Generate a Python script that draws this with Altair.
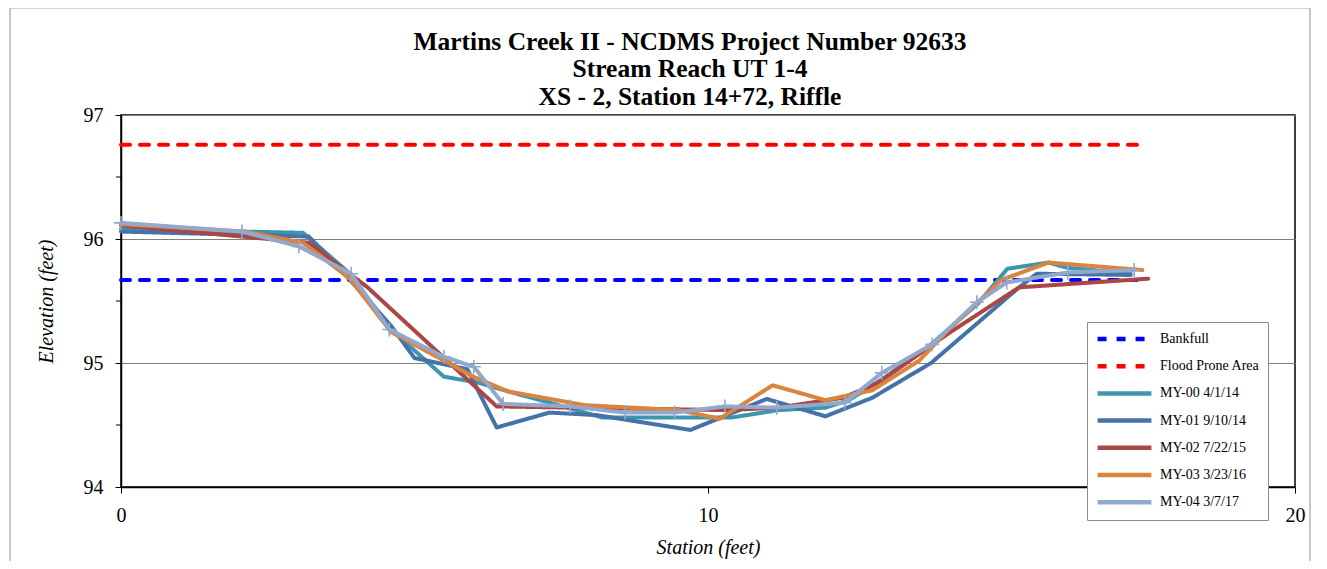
import altair as alt
import pandas as pd

# ---- data ----
series_names = ["Bankfull", "Flood Prone Area", "MY-00 4/1/14", "MY-01 9/10/14",
                "MY-02 7/22/15", "MY-03 3/23/16", "MY-04 3/7/17"]
series_colors = ["#0000FF", "#FF0000", "#3D96AE", "#4572A7", "#AA4643", "#DB843D", "#92A8CD"]
series_dashes = [[9, 10], [9, 10], [1, 0], [1, 0], [1, 0], [1, 0], [1, 0]]

bank_st = [0, 17.36]
bank_el = [95.67, 95.67]

flood_st = [0, 17.31]
flood_el = [96.76, 96.76]

my00_st = [0, 3.1, 3.9, 4.6, 5.5, 6.1, 6.6, 7.3, 8.2, 10.4, 11.2, 12.0, 12.4, 13.0, 13.8, 14.6, 15.1, 15.8, 16.1, 17.2]
my00_el = [96.08, 96.05, 95.72, 95.27, 94.89, 94.84, 94.77, 94.68, 94.56, 94.56, 94.62, 94.64, 94.70, 94.88, 95.15, 95.48, 95.76, 95.81, 95.77, 95.72]

my01_st = [0, 3.2, 3.9, 4.6, 5.0, 5.9, 6.4, 7.3, 8.1, 9.7, 11.0, 12.0, 12.8, 13.8, 15.3, 15.6, 17.2]
my01_el = [96.06, 96.02, 95.67, 95.30, 95.04, 94.95, 94.48, 94.60, 94.58, 94.46, 94.71, 94.57, 94.72, 95.00, 95.61, 95.72, 95.71]

my02_st = [0, 3.2, 4.2, 6.4, 10.3, 11.2, 12.3, 12.9, 14.1, 15.3, 17.5]
my02_el = [96.11, 95.97, 95.61, 94.65, 94.62, 94.64, 94.72, 94.84, 95.24, 95.61, 95.68]

my03_st = [0, 2.1, 3.1, 3.9, 4.6, 5.5, 6.0, 6.6, 7.9, 9.5, 10.2, 11.1, 12.0, 12.8, 13.6, 14.1, 15.0, 15.8, 17.4]
my03_el = [96.12, 96.06, 95.97, 95.68, 95.25, 95.02, 94.89, 94.77, 94.66, 94.62, 94.55, 94.82, 94.70, 94.78, 95.02, 95.27, 95.67, 95.81, 95.75]

my04_st = [0, 2.06, 3.03, 3.92, 4.57, 5.50, 6.01, 6.51, 7.65, 8.59, 9.43, 10.29, 11.17, 12.33, 12.96, 13.82, 14.58, 15.09, 16.13, 17.26]
my04_el = [96.13, 96.06, 95.94, 95.72, 95.27, 95.05, 94.97, 94.67, 94.65, 94.60, 94.60, 94.65, 94.64, 94.68, 94.92, 95.15, 95.49, 95.65, 95.73, 95.75]

y_ticks = [94, 95, 96, 97]
y_minor = [94.5, 95.5, 96.5]
x_ticks = [0, 10, 20]

title_lines = ["Martins Creek II - NCDMS Project Number 92633",
               "Stream Reach UT 1-4",
               "XS - 2, Station 14+72, Riffle"]

# ---- build tables ----
all_series = [bank_st, flood_st, my00_st, my01_st, my02_st, my03_st, my04_st]
all_elev = [bank_el, flood_el, my00_el, my01_el, my02_el, my03_el, my04_el]
rows = []
for name, xs, ys in zip(series_names, all_series, all_elev):
    for i, (xv, yv) in enumerate(zip(xs, ys)):
        rows.append({"series": name, "station": xv, "elev": yv, "ord": i})
df = pd.DataFrame(rows)
minor_df = pd.DataFrame({"m": y_minor})
frame_df = pd.DataFrame({"a": [0]})

FONT = "Liberation Serif"

legend_props = dict(
    title=None, orient="none", legendX=966, legendY=207,
    fillColor="white", strokeColor="#8c8c8c", padding=8,
    labelFont=FONT, labelFontSize=14, labelColor="black", labelOffset=6,
    symbolType="stroke", symbolSize=2900, symbolStrokeWidth=4.5,
    clipHeight=18, rowPadding=9.2, zindex=2,
)

x_enc = alt.X("station:Q", scale=alt.Scale(domain=[0, 20], nice=False, zero=False),
              axis=alt.Axis(values=x_ticks, format="d", title="Station (feet)", grid=False,
                            labelFlush=False,
                            titleX=587, titleY=60, titleBaseline="middle",
                            labelPadding=12))
y_enc = alt.Y("elev:Q", scale=alt.Scale(domain=[94, 97], nice=False, zero=False),
              axis=alt.Axis(values=y_ticks, format="d", title="Elevation (feet)", grid=True,
                            gridColor="#7f7f7f", gridWidth=1, labelFlush=False,
                            titleX=-75, titleY=186, titleBaseline="middle",
                            titleAngle=-90, labelPadding=12))

frame = alt.Chart(frame_df).mark_rect(fillOpacity=0, stroke="#a6a6a6", strokeWidth=1.2).encode(
    x=alt.value(-111), x2=alt.value(1189), y=alt.value(-107), y2=alt.value(470)
)

minor = alt.Chart(minor_df).mark_rule(color="black", strokeWidth=1).encode(
    y=alt.Y("m:Q"), x=alt.value(-5), x2=alt.value(0)
)

lines = alt.Chart(df).mark_line(strokeWidth=4, strokeCap="round", strokeJoin="round").encode(
    x=x_enc,
    y=y_enc,
    color=alt.Color("series:N", scale=alt.Scale(domain=series_names, range=series_colors),
                    legend=alt.Legend(**legend_props)),
    strokeDash=alt.StrokeDash("series:N", scale=alt.Scale(domain=series_names, range=series_dashes),
                              legend=alt.Legend(**legend_props)),
    order=alt.Order("ord:Q"),
)

markers = alt.Chart(df).transform_filter(
    alt.datum.series == "MY-04 3/7/17"
).mark_point(shape="M-1,0H1M0,-1V1", filled=False, size=196, strokeWidth=1.6,
             color="#92A8CD", opacity=1).encode(
    x="station:Q", y="elev:Q"
)

chart = alt.layer(frame, lines, markers, minor).properties(
    width=1174, height=372,
    background="white",
    title=alt.TitleParams(text=title_lines, font=FONT, fontSize=25.5, fontWeight="bold",
                          color="black", lineHeight=27.5, anchor="middle", baseline="bottom",
                          dx=-18, dy=128, offset=0),
    autosize=alt.AutoSizeParams(type="none"),
    padding={"left": 113, "top": 107, "right": 24, "bottom": 74},
).configure_view(
    stroke="black", strokeWidth=1.5
).configure_axis(
    domainColor="black", domainWidth=1.5, tickColor="black", tickSize=6, tickWidth=1,
    labelFont=FONT, labelFontSize=20, labelColor="black",
    titleFont=FONT, titleFontSize=20, titleFontStyle="italic", titleFontWeight="normal",
    titleColor="black",
)

chart.save("out.html", embed_options={"renderer": "svg", "actions": False})
